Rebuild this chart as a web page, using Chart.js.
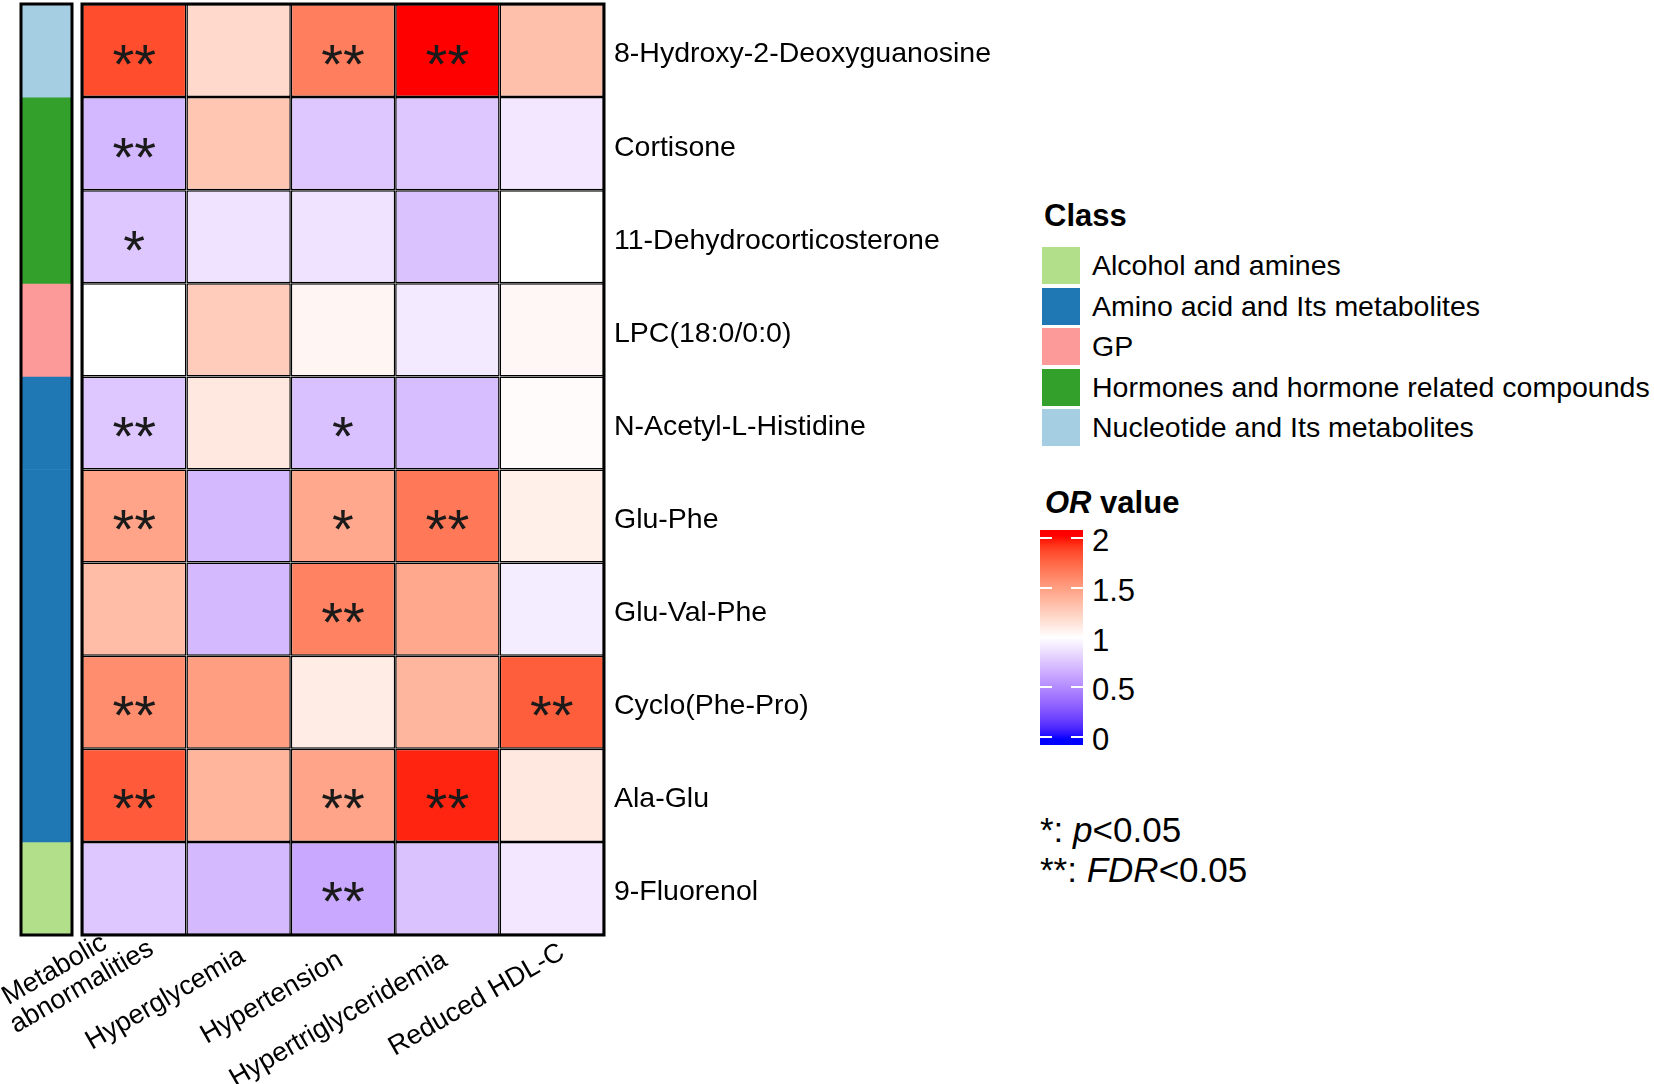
<!DOCTYPE html>
<html>
<head>
<meta charset="utf-8">
<script src="https://cdn.jsdelivr.net/npm/chart.js@4.4.1/dist/chart.umd.min.js"></script>
<style>
  body { margin: 0; background: #fff; }
  #wrap { position: relative; width: 1654px; height: 1084px; font-family: "Liberation Sans", Arial, sans-serif; color: #000; }
  canvas { position: absolute; left: 0; top: 0; }
  .txt { position: absolute; line-height: 1; white-space: nowrap; }
  .item { position: absolute; left: 1042px; height: 37px; display: flex; align-items: center; font-size: 28.5px; white-space: nowrap; }
  .item span.box { display: inline-block; width: 38px; height: 37px; margin-right: 12px; }
  #bar { position: absolute; left: 1040px; top: 530px; width: 43px; height: 215px; }
  .dash { position: absolute; width: 12px; height: 2px; background: #fff; }
</style>
</head>
<body>
<div id="wrap">
  <canvas id="heat" width="1000" height="1084"></canvas>
  <canvas id="cls" width="100" height="1084"></canvas>
  <div class="txt" style="left:1044px;top:200px;font-size:31px;font-weight:bold">Class</div>
  <div id="classLegend"></div>
  <div class="txt" style="left:1045px;top:487px;font-size:31px;font-weight:bold"><i>OR</i> value</div>
  <div id="bar"></div>
  <div id="barTicks"></div>
  <div class="txt" style="left:1040px;top:812px;font-size:35px">*: <i>p</i>&lt;0.05</div>
  <div class="txt" style="left:1040px;top:852px;font-size:35px">**: <i>FDR</i>&lt;0.05</div>
</div>
<script>
// columns (outcomes) and rows (metabolites); single names sit on the second line,
// trailing spaces nudge each rotated name back along its baseline
const outcomes = [['Metabolic     ', 'abnormalities'], ['', 'Hyperglycemia  '], ['', 'Hypertension   '],
  ['', 'Hypertriglyceridemia   '], ['', 'Reduced HDL-C ']];
const metabolites = ['8-Hydroxy-2-Deoxyguanosine', 'Cortisone', '11-Dehydrocorticosterone', 'LPC(18:0/0:0)',
  'N-Acetyl-L-Histidine', 'Glu-Phe', 'Glu-Val-Phe', 'Cyclo(Phe-Pro)', 'Ala-Glu', '9-Fluorenol'];

const classNames = ['Alcohol and amines', 'Amino acid and Its metabolites', 'GP',
  'Hormones and hormone related compounds', 'Nucleotide and Its metabolites'];
const classColors = ['#B2DF8A', '#1F78B4', '#FB9A99', '#33A02C', '#A6CEE3'];
const metaboliteClass = [4, 3, 3, 2, 1, 1, 1, 1, 1, 0];

// OR values per outcome, top row first
const orMetabolic = [1.85, 0.69, 0.76, 1.0, 0.76, 1.47, 1.35, 1.58, 1.8, 0.76];
const orHyperglycemia = [1.2, 1.3, 0.88, 1.27, 1.12, 0.7, 0.7, 1.5, 1.39, 0.7];
const orHypertension = [1.65, 0.76, 0.88, 1.05, 0.73, 1.45, 1.63, 1.1, 1.47, 0.63];
const orHypertrig = [2.0, 0.76, 0.74, 0.91, 0.72, 1.68, 1.45, 1.38, 1.96, 0.74];
const orHdl = [1.33, 0.9, 1.0, 1.04, 1.02, 1.08, 0.92, 1.79, 1.12, 0.9];
const orValues = [orMetabolic, orHyperglycemia, orHypertension, orHypertrig, orHdl];

// significance marks per outcome
const sigMetabolic = ['**', '**', '*', '', '**', '**', '', '**', '**', ''];
const sigHyperglycemia = ['', '', '', '', '', '', '', '', '', ''];
const sigHypertension = ['**', '', '', '', '*', '*', '**', '', '**', '**'];
const sigHypertrig = ['**', '', '', '', '', '**', '', '', '**', ''];
const sigHdl = ['', '', '', '', '', '', '', '**', '', ''];
const signif = [sigMetabolic, sigHyperglycemia, sigHypertension, sigHypertrig, sigHdl];

const legendTicks = [0, 0.5, 1, 1.5, 2];

const FONT = '"Liberation Sans", Arial, sans-serif';

// blue - white - red ramp, interpolated in LAB like colorRamp2
const WHITE = [0.95047, 1, 1.08883];
function toLinear(c) { c /= 255; return c <= 0.04045 ? c / 12.92 : Math.pow((c + 0.055) / 1.055, 2.4); }
function toSrgb(c) {
  c = c <= 0.0031308 ? 12.92 * c : 1.055 * Math.pow(c, 1 / 2.4) - 0.055;
  return Math.round(Math.min(1, Math.max(0, c)) * 255);
}
function rgbToLab(rgb) {
  const [r, g, b] = rgb.map(toLinear);
  const xyz = [0.4124 * r + 0.3576 * g + 0.1805 * b, 0.2126 * r + 0.7152 * g + 0.0722 * b, 0.0193 * r + 0.1192 * g + 0.9505 * b];
  const f = xyz.map((v, k) => { v /= WHITE[k]; return v > 0.008856 ? Math.cbrt(v) : 7.787 * v + 16 / 116; });
  return [116 * f[1] - 16, 500 * (f[0] - f[1]), 200 * (f[1] - f[2])];
}
function labToRgb([L, a, b]) {
  const fy = (L + 16) / 116, fx = fy + a / 500, fz = fy - b / 200;
  const [X, Y, Z] = [fx, fy, fz].map((f, k) => {
    const v = f * f * f > 0.008856 ? f * f * f : (f - 16 / 116) / 7.787;
    return v * WHITE[k];
  });
  return [3.2406 * X - 1.5372 * Y - 0.4986 * Z, -0.9689 * X + 1.8758 * Y + 0.0415 * Z, 0.0557 * X - 0.2040 * Y + 1.0570 * Z].map(toSrgb);
}
const rampLab = [[0, 0, 255], [255, 255, 255], [255, 0, 0]].map(rgbToLab);
function orColor(v) {
  v = Math.min(2, Math.max(0, v));
  const k = v < 1 ? 0 : 1;
  const t = v - k;
  const lab = rampLab[k].map((c, n) => c + (rampLab[k + 1][n] - c) * t);
  const [r, g, b] = labToRgb(lab);
  return `rgb(${r},${g},${b})`;
}

const framePlugin = {
  id: 'frame',
  afterDatasetsDraw(chart) {
    const { ctx, chartArea: a } = chart;
    ctx.save();
    ctx.lineWidth = 3;
    ctx.strokeStyle = '#000';
    ctx.strokeRect(a.left, a.top, a.right - a.left, a.bottom - a.top);
    ctx.restore();
  }
};

const starPlugin = {
  id: 'stars',
  afterDatasetsDraw(chart) {
    const { ctx, scales: { x, y } } = chart;
    ctx.save();
    ctx.font = '56px ' + FONT;
    ctx.fillStyle = '#1a1a1a';
    ctx.textAlign = 'center';
    ctx.textBaseline = 'alphabetic';
    signif.forEach((col, j) => col.forEach((s, i) => {
      if (s) ctx.fillText(s, x.getPixelForValue(j), y.getPixelForValue(i + 0.5) + 32);
    }));
    ctx.restore();
  }
};

const heat = new Chart(document.getElementById('heat'), {
  type: 'bar',
  data: {
    labels: outcomes,
    datasets: metabolites.map((m, i) => ({
      label: m,
      data: outcomes.map(() => [i, i + 1]),
      backgroundColor: orValues.map(col => orColor(col[i])),
      borderColor: '#000',
      borderWidth: 1.5,
      borderSkipped: false,
      inflateAmount: 0,
      grouped: false,
      barPercentage: 1,
      categoryPercentage: 1
    }))
  },
  options: {
    responsive: false,
    animation: false,
    events: [],
    layout: { padding: { left: 82, top: 4, right: 0, bottom: 0 } },
    plugins: { legend: { display: false }, tooltip: { enabled: false } },
    scales: {
      x: {
        grid: { display: false, drawTicks: false },
        border: { display: false },
        ticks: { autoSkip: false, minRotation: 30, maxRotation: 30, padding: -25, labelOffset: 3, color: '#000',
          font: { family: FONT, size: 27, lineHeight: 1.05 } },
        afterFit(s) { s.height = 149; s.paddingLeft = 0; s.paddingRight = 0; }
      },
      y: {
        position: 'right',
        min: 0, max: 10, reverse: true,
        grid: { display: false, drawTicks: false },
        border: { display: false },
        afterBuildTicks(s) { s.ticks = metabolites.map((m, i) => ({ value: i + 0.5 })); },
        ticks: { padding: 10, labelOffset: 4, color: '#000', font: { family: FONT, size: 28.5 },
          callback: (v, i) => metabolites[i] },
        afterFit(s) { s.width = 396; s.paddingTop = 0; s.paddingBottom = 0; }
      }
    }
  },
  plugins: [starPlugin, framePlugin]
});

// class annotation bar, aligned to the heatmap rows
new Chart(document.getElementById('cls'), {
  type: 'bar',
  data: {
    labels: ['Class'],
    datasets: metabolites.map((m, i) => ({
      label: m,
      data: [[i, i + 1]],
      backgroundColor: classColors[metaboliteClass[i]],
      borderWidth: 0,
      grouped: false,
      barPercentage: 1,
      categoryPercentage: 1
    }))
  },
  options: {
    responsive: false,
    animation: false,
    events: [],
    layout: { padding: { left: 21, right: 28, top: heat.chartArea.top, bottom: 1084 - heat.chartArea.bottom } },
    plugins: { legend: { display: false }, tooltip: { enabled: false } },
    scales: { x: { display: false }, y: { display: false, min: 0, max: 10, reverse: true } }
  },
  plugins: [framePlugin]
});

// class legend
const legend = document.getElementById('classLegend');
classNames.forEach((name, k) => {
  const row = document.createElement('div');
  row.className = 'item';
  row.style.top = (247 + k * 40.5) + 'px';
  row.innerHTML = `<span class="box" style="background:${classColors[k]}"></span>${name}`;
  legend.appendChild(row);
});

// OR colour bar
const bar = document.getElementById('bar');
const stops = [];
for (let p = 0; p <= 40; p++) {
  const v = 2.08 - (p / 40) * 2.16;
  stops.push(`${orColor(v)} ${(p / 40 * 100).toFixed(1)}%`);
}
bar.style.background = `linear-gradient(to bottom, ${stops.join(', ')})`;
const barTicks = document.getElementById('barTicks');
legendTicks.forEach(v => {
  const yRel = 207 - v * 99.5;
  ['left', 'right'].forEach(side => {
    const d = document.createElement('div');
    d.className = 'dash';
    d.style[side] = '0px';
    d.style.top = (yRel - 1) + 'px';
    bar.appendChild(d);
  });
  const t = document.createElement('div');
  t.className = 'txt';
  t.style.left = '1092px';
  t.style.fontSize = '31px';
  t.style.top = (530 + yRel + 2 - 15) + 'px';
  t.textContent = String(v);
  barTicks.appendChild(t);
});
</script>
</body>
</html>
